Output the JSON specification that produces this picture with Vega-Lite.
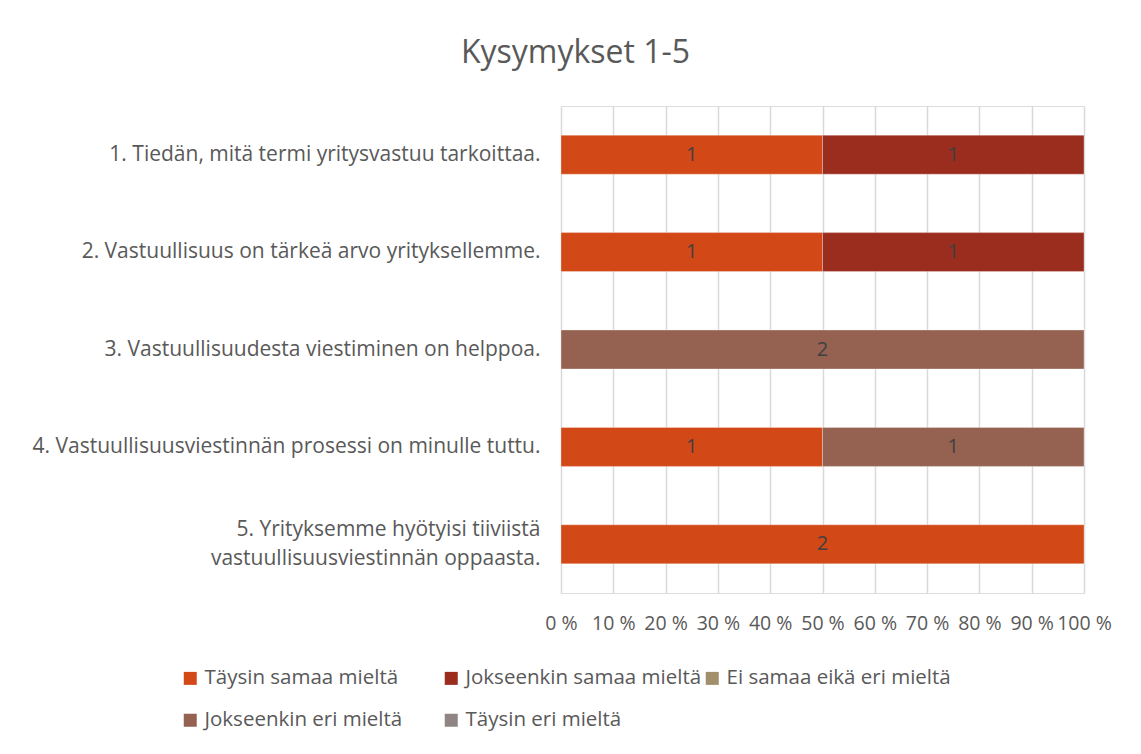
{
  "$schema": "https://vega.github.io/schema/vega-lite/v6.json",
  "autosize": "none",
  "width": 523,
  "height": 487,
  "padding": {"left": 561, "top": 106, "right": 57, "bottom": 161},
  "background": "white",
  "title": {
    "text": "Kysymykset 1-5",
    "fontSize": 32,
    "font": "Open Sans",
    "fontWeight": "normal",
    "color": "#595959",
    "anchor": "middle",
    "frame": "group",
    "dx": -247,
    "baseline": "alphabetic",
    "offset": 11
  },
  "data": {
    "values": [
      {"q": "1. Tiedän, mitä termi yritysvastuu tarkoittaa.", "s": "Täysin samaa mieltä", "n": 1},
      {"q": "1. Tiedän, mitä termi yritysvastuu tarkoittaa.", "s": "Jokseenkin samaa mieltä", "n": 1},
      {"q": "2. Vastuullisuus on tärkeä arvo yrityksellemme.", "s": "Täysin samaa mieltä", "n": 1},
      {"q": "2. Vastuullisuus on tärkeä arvo yrityksellemme.", "s": "Jokseenkin samaa mieltä", "n": 1},
      {"q": "3. Vastuullisuudesta viestiminen on helppoa.", "s": "Jokseenkin eri mieltä", "n": 2},
      {"q": "4. Vastuullisuusviestinnän prosessi on minulle tuttu. ", "s": "Täysin samaa mieltä", "n": 1},
      {"q": "4. Vastuullisuusviestinnän prosessi on minulle tuttu. ", "s": "Jokseenkin eri mieltä", "n": 1},
      {"q": "5. Yrityksemme hyötyisi tiiviistä vastuullisuusviestinnän oppaasta.", "s": "Täysin samaa mieltä", "n": 2}
    ]
  },
  "transform": [
    {"calculate": "indexof(['Täysin samaa mieltä','Jokseenkin samaa mieltä','Ei samaa eikä eri mieltä','Jokseenkin eri mieltä','Täysin eri mieltä'], datum.s)", "as": "o"},
    {"stack": "n", "groupby": ["q"], "sort": [{"field": "o", "order": "ascending"}], "offset": "normalize", "as": ["x0", "x1"]},
    {"calculate": "(datum.x0 + datum.x1) / 2", "as": "xm"}
  ],
  "encoding": {
    "y": {
      "field": "q",
      "type": "nominal",
      "sort": null,
      "scale": {"paddingInner": 0.6, "paddingOuter": 0.3},
      "axis": {
        "title": null,
        "domain": false,
        "ticks": false,
        "labelFont": "Open Sans",
        "labelFontSize": 21,
        "labelColor": "#595959",
        "labelPadding": 21,
        "labelLimit": 700,
        "labelLineHeight": 29,
        "labelOffset": {"condition": {"test": "indexof(datum.value, '5.') == 0", "value": -14}, "value": 0},
        "labelExpr": "indexof(datum.value, '5.') == 0 ? ['5. Yrityksemme hyötyisi tiiviistä', 'vastuullisuusviestinnän oppaasta.'] : datum.value"
      }
    }
  },
  "layer": [
    {
      "mark": {"type": "bar", "stroke": "white", "strokeWidth": 0.6, "strokeOpacity": 0.5},
      "encoding": {
        "x": {
          "field": "x0",
          "type": "quantitative",
          "scale": {"domain": [0, 1], "nice": false},
          "axis": {
            "title": null,
            "values": [0, 0.1, 0.2, 0.3, 0.4, 0.5, 0.6, 0.7, 0.8, 0.9, 1],
            "labelExpr": "round(datum.value * 100) + ' %'",
            "domain": false,
            "ticks": false,
            "grid": true,
            "gridColor": "#d9d9d9",
            "gridWidth": 1.5,
            "labelFont": "Open Sans",
            "labelFontSize": 19.5,
            "labelColor": "#595959",
            "labelPadding": 21,
            "labelFlush": false,
            "labelOverlap": false
          }
        },
        "x2": {"field": "x1"},
        "color": {
          "field": "s",
          "type": "nominal",
          "scale": {
            "domain": ["Täysin samaa mieltä", "Jokseenkin samaa mieltä", "Ei samaa eikä eri mieltä", "Jokseenkin eri mieltä", "Täysin eri mieltä"],
            "range": ["#D24817", "#9B2D1F", "#A28E6A", "#956251", "#918485"]
          },
          "legend": {
            "title": null,
            "orient": "none",
            "legendX": -381,
            "legendY": 562,
            "padding": 0,
            "direction": "horizontal",
            "columns": 3,
            "gridAlign": "all",
            "columnPadding": 0,
            "rowPadding": 21,
            "symbolType": "square",
            "symbolSize": 169,
            "symbolStrokeWidth": 0,
            "labelFont": "Open Sans",
            "labelFontSize": 20.5,
            "labelColor": "#595959",
            "labelOffset": 4,
            "labelLimit": 400
          }
        }
      }
    },
    {
      "mark": {"type": "text", "font": "Open Sans", "fontSize": 20, "color": "#404040", "baseline": "middle"},
      "encoding": {
        "x": {"field": "xm", "type": "quantitative"},
        "text": {"field": "n", "type": "quantitative"}
      }
    }
  ]
}
